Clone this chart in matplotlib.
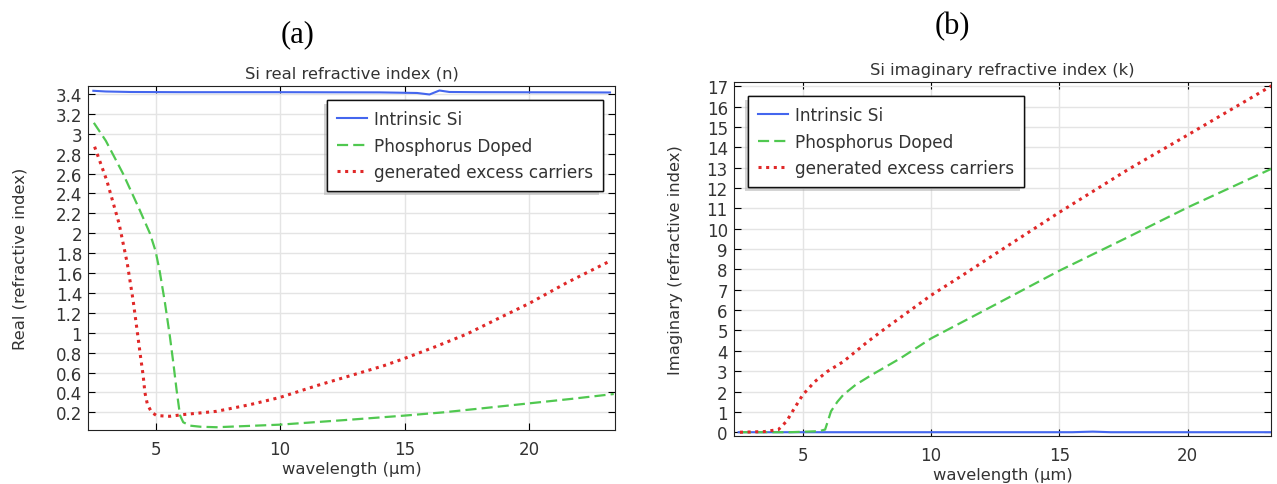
import matplotlib
matplotlib.use("Agg")
import matplotlib.pyplot as plt
import matplotlib.patheffects as pe

# ---- data ----
# (a) real part n
n_intr_wl = [2.5, 3.0, 4.0, 6.0, 8.0, 10.0, 12.0, 14.0, 15.5, 16.0, 16.4, 16.8, 18.0, 20.0, 22.0, 23.25]
n_intr = [3.432, 3.425, 3.42, 3.418, 3.418, 3.418, 3.417, 3.416, 3.41, 3.395, 3.435, 3.42, 3.418, 3.417, 3.416, 3.415]

n_p_wl = [2.52, 3.0, 3.69, 4.35, 4.77, 5.0, 5.17, 5.37, 5.57, 5.71, 5.84, 5.98, 6.11, 6.38, 6.8, 7.45, 10.0, 12.82, 15.0, 16.57, 18.3, 20.0, 21.7, 23.4]
n_p = [3.11, 2.93, 2.60, 2.24, 2.00, 1.82, 1.61, 1.31, 0.97, 0.70, 0.43, 0.17, 0.10, 0.066, 0.055, 0.05, 0.076, 0.126, 0.167, 0.20, 0.245, 0.29, 0.335, 0.384]

n_ex_wl = [2.55, 3.04, 3.53, 3.86, 4.1, 4.28, 4.4, 4.5, 4.57, 4.67, 4.84, 5.04, 5.57, 6.1, 7.45, 8.79, 10.0, 11.47, 12.82, 14.16, 15.0, 16.17, 17.5, 18.85, 20.0, 21.53, 23.27]
n_ex = [2.87, 2.53, 2.10, 1.70, 1.32, 0.98, 0.75, 0.57, 0.40, 0.28, 0.20, 0.167, 0.16, 0.177, 0.21, 0.277, 0.35, 0.468, 0.568, 0.668, 0.742, 0.853, 0.987, 1.154, 1.294, 1.505, 1.723]

# (b) imaginary part k
k_intr_wl = [2.5, 6.0, 10.0, 15.5, 16.3, 17.0, 20.0, 23.3]
k_intr = [0.0, 0.0, 0.0, 0.0, 0.03, 0.0, 0.0, 0.0]

k_p_wl = [2.55, 4.5, 5.63, 5.87, 6.1, 6.35, 6.58, 7.06, 7.69, 8.8, 10.0, 11.87, 15.0, 17.66, 20.0, 23.3]
k_p = [0.0, 0.0, 0.05, 0.13, 1.03, 1.5, 1.84, 2.33, 2.82, 3.63, 4.61, 5.85, 7.94, 9.58, 11.05, 12.97]

k_ex_wl = [2.55, 3.5, 4.05, 4.37, 4.68, 5.0, 5.47, 5.95, 6.58, 7.53, 8.16, 10.0, 11.33, 12.52, 15.0, 17.66, 20.0, 23.3]
k_ex = [0.0, 0.03, 0.13, 0.54, 1.19, 1.84, 2.49, 2.98, 3.47, 4.45, 5.05, 6.73, 7.8, 8.78, 10.81, 12.9, 14.61, 17.05]

labels = ["Intrinsic Si", "Phosphorus Doped", "generated excess carriers"]
n_ticks = [0.2, 0.4, 0.6, 0.8, 1, 1.2, 1.4, 1.6, 1.8, 2, 2.2, 2.4, 2.6, 2.8, 3, 3.2, 3.4]
k_ticks = list(range(0, 18))

BLUE = "#4466ee"
GREEN = "#50c850"
RED = "#e02828"
TXT = "#333333"

plt.rcParams["font.family"] = "DejaVu Sans"

fig = plt.figure(figsize=(12.77, 4.85), dpi=100)
ax1 = fig.add_axes([0.0692, 0.1113, 0.4124, 0.7099])
ax2 = fig.add_axes([0.5748, 0.0984, 0.4208, 0.7299])


def draw(ax, series, title, ylabel, ypad):
    (w1, v1), (w2, v2), (w3, v3) = series
    ax.plot(w1, v1, color=BLUE, lw=1.5, label=labels[0], zorder=3)
    ax.plot(w2, v2, color=GREEN, lw=1.6, ls=(0, (5, 2.3)), label=labels[1], zorder=3)
    ax.plot(w3, v3, color=RED, lw=2.2, ls=(0, (1, 1.5)), label=labels[2], zorder=3)
    ax.set_title(title, fontsize=11.8, color=TXT, pad=6)
    ax.set_xlabel("wavelength (µm)", fontsize=11.8, color=TXT, labelpad=2)
    ax.set_ylabel(ylabel, fontsize=11.8, color=TXT, labelpad=ypad)
    ax.set_xticks([5, 10, 15, 20])
    ax.grid(True, color="#e4e4e4", lw=1)
    ax.set_axisbelow(True)
    ax.tick_params(direction="in", top=True, right=True, length=5,
                   labelsize=12, labelcolor=TXT)
    ax.tick_params(axis="x", pad=7)
    ax.tick_params(axis="y", pad=4.5)
    for sp in ax.spines.values():
        sp.set_color("#222222")


draw(ax1, [(n_intr_wl, n_intr), (n_p_wl, n_p), (n_ex_wl, n_ex)],
     "Si real refractive index (n)", "Real (refractive index)", 20)
ax1.set_xlim(2.3, 23.45)
ax1.set_ylim(0.022, 3.483)
ax1.set_yticks(n_ticks)
ax1.set_yticklabels(["%g" % t for t in n_ticks])

draw(ax2, [(k_intr_wl, k_intr), (k_p_wl, k_p), (k_ex_wl, k_ex)],
     "Si imaginary refractive index (k)", "Imaginary (refractive index)", 17)
ax2.set_xlim(2.32, 23.26)
ax2.set_ylim(-0.2, 17.2)
ax2.set_yticks(k_ticks)

shadow = [pe.withSimplePatchShadow(offset=(-2.5, -2.5), shadow_rgbFace="#aaaaaa", alpha=0.5), pe.Normal()]
for ax, loc, anchor in [(ax1, "upper right", (0.977, 0.958)), (ax2, "upper left", (0.026, 0.961))]:
    leg = ax.legend(loc=loc, bbox_to_anchor=anchor, borderaxespad=0, fancybox=False,
                    framealpha=1, edgecolor="#111111", fontsize=12.2, handlelength=1.75,
                    handletextpad=0.4, labelspacing=0.5, borderpad=0.6)
    leg.get_frame().set_linewidth(1.0)
    leg.get_frame().set_path_effects(shadow)
    for t in leg.get_texts():
        t.set_color(TXT)

fig.text(0.2334, 0.928, "(a)", fontsize=22, family="Liberation Serif", ha="center", va="center")
fig.text(0.7455, 0.945, "(b)", fontsize=22, family="Liberation Serif", ha="center", va="center")

fig.savefig("out.png", dpi=100)
